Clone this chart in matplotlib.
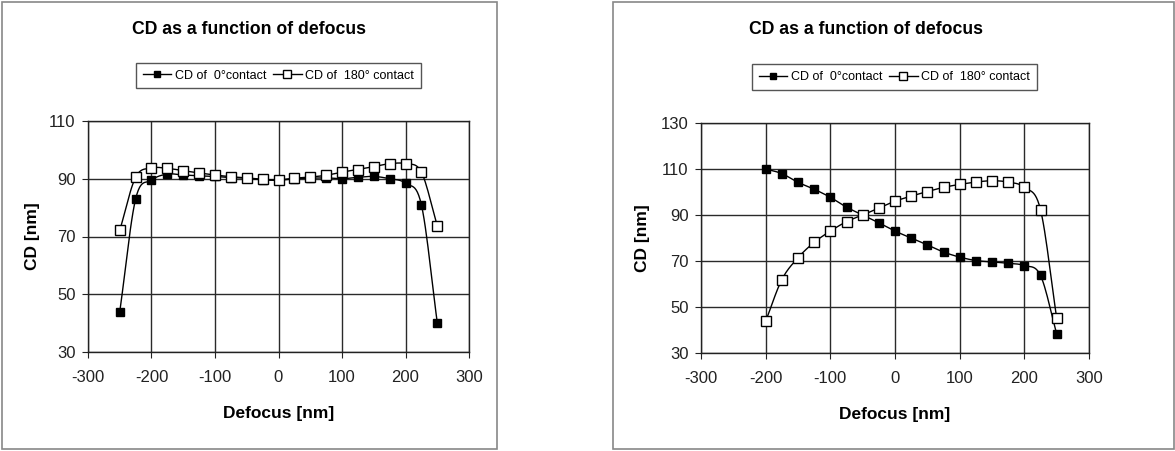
import numpy as np
import matplotlib
matplotlib.use("Agg")
import matplotlib.pyplot as plt
from matplotlib.patches import Rectangle
from matplotlib.lines import Line2D

plt.rcParams['font.family'] = ['Liberation Sans', 'DejaVu Sans']
plt.rcParams['axes.unicode_minus'] = False

# defocus positions (nm)
defocus = [-250, -225, -200, -175, -150, -125, -100, -75, -50, -25, 0,
           25, 50, 75, 100, 125, 150, 175, 200, 225, 250]

# left chart
left_cd0 = [43.9, 83.0, 89.5, 91.6, 91.3, 91.0, 90.8, 90.4, 90.2, 89.6, 89.5,
            90.0, 90.2, 90.3, 90.0, 90.5, 90.8, 90.0, 88.4, 81.0, 40.2]
left_cd180 = [72.1, 90.5, 93.7, 93.6, 92.8, 92.0, 91.3, 90.7, 90.3, 89.8, 89.6,
              90.2, 90.6, 91.2, 92.3, 93.2, 94.2, 95.2, 95.2, 92.3, 73.8]

# right chart (starts at -200)
right_defocus = defocus[2:]
right_cd0 = [110.0, 108.0, 104.2, 101.2, 97.7, 93.4, 90.0, 86.6, 83.0, 80.0,
             77.0, 73.9, 71.7, 70.2, 69.6, 69.0, 68.0, 63.7, 38.4]
right_cd180 = [43.8, 61.9, 71.4, 78.1, 83.0, 87.1, 90.0, 93.0, 96.0, 98.2,
               100.2, 102.0, 103.3, 104.3, 104.9, 104.3, 102.0, 92.3, 45.2]

xticks = [-300, -200, -100, 0, 100, 200, 300]
left_yticks = [30, 50, 70, 90, 110]
right_yticks = [30, 50, 70, 90, 110, 130]

title = "CD as a function of defocus"
labels = ["CD of  0\u00b0contact", "CD of  180\u00b0 contact"]

W, H = 1175, 451


def smooth(x, y, n=12):
    # catmull-rom curve through the points, like excel's smoothed line
    x = np.asarray(x, float)
    y = np.asarray(y, float)
    px = np.concatenate([[2 * x[0] - x[1]], x, [2 * x[-1] - x[-2]]])
    py = np.concatenate([[2 * y[0] - y[1]], y, [2 * y[-1] - y[-2]]])
    t = np.linspace(0, 1, n, endpoint=False)
    xs, ys = [], []
    for i in range(1, len(px) - 2):
        for p, out in ((px, xs), (py, ys)):
            p0, p1, p2, p3 = p[i - 1], p[i], p[i + 1], p[i + 2]
            out.extend(0.5 * ((2 * p1) + (-p0 + p2) * t
                              + (2 * p0 - 5 * p1 + 4 * p2 - p3) * t ** 2
                              + (-p0 + 3 * p1 - 3 * p2 + p3) * t ** 3))
    xs.append(x[-1])
    ys.append(y[-1])
    return xs, ys


styles = [('black', 6), ('white', 7)]


def panel(ax, x, y0, y180, yticks, ylim):
    for y, (fc, ms) in zip((y0, y180), styles):
        sx, sy = smooth(x, y)
        ax.plot(sx, sy, color='black', lw=1.0, zorder=3)
        ax.plot(x, y, ls='none', marker='s', ms=ms, mfc=fc, mec='black',
                mew=1.0, zorder=4)
    ax.set_xlim(-300, 300)
    ax.set_ylim(*ylim)
    ax.set_xticks(xticks)
    ax.set_yticks(yticks)
    ax.grid(True, color='#2a2a2a', lw=1.0)
    ax.set_axisbelow(True)
    for s in ax.spines.values():
        s.set_color('#222222')
        s.set_linewidth(1.0)
    ax.tick_params(direction='out', length=4, labelsize=12, colors='#222222')
    ax.tick_params(axis='x', pad=9)
    ax.tick_params(axis='y', pad=5)
    ax.set_xlabel("Defocus [nm]", fontsize=12.5, fontweight='bold')
    ax.set_ylabel("CD [nm]", fontsize=12.5, fontweight='bold')


fig = plt.figure(figsize=(W / 100, H / 100), dpi=100)

# grey frames around each chart
fig.patches.append(Rectangle((2 / W, 1 - 449 / H), 495 / W, 447 / H,
                             transform=fig.transFigure, fill=False,
                             ec='#888888', lw=1.2))
fig.patches.append(Rectangle((613 / W, 1 - 449 / H), 561 / W, 447 / H,
                             transform=fig.transFigure, fill=False,
                             ec='#888888', lw=1.2))

ax1 = fig.add_axes([88 / W, 1 - 352 / H, 381 / W, 231 / H])
panel(ax1, defocus, left_cd0, left_cd180, left_yticks, (30, 110))
ax1.xaxis.set_label_coords(0.5, -0.235)
ax1.yaxis.set_label_coords(-0.126, 0.5)

ax2 = fig.add_axes([701 / W, 1 - 353 / H, 388 / W, 230 / H])
panel(ax2, right_defocus, right_cd0, right_cd180, right_yticks, (30, 130))
ax2.xaxis.set_label_coords(0.5, -0.235)
ax2.yaxis.set_label_coords(-0.131, 0.5)

for cx in (249, 866):
    fig.text(cx / W, 1 - 29 / H, title, ha='center', va='center',
             fontsize=12.7, fontweight='bold')

handles = [Line2D([], [], color='black', lw=1.0, marker='s', ms=ms - 1,
                  mfc=fc, mec='black', mew=1.0) for fc, ms in styles]

for ax, cx, cy in ((ax1, 278.5, 75.5), (ax2, 894.5, 77)):
    ax.legend(handles, labels, loc='center',
              bbox_to_anchor=(cx / W, 1 - cy / H),
              bbox_transform=fig.transFigure, ncol=2, fontsize=9,
              frameon=True, fancybox=False, edgecolor='#555555',
              framealpha=1, handlelength=2.3, handletextpad=0.3,
              columnspacing=0.5, borderpad=0.55)

fig.savefig("out.png", dpi=100)
